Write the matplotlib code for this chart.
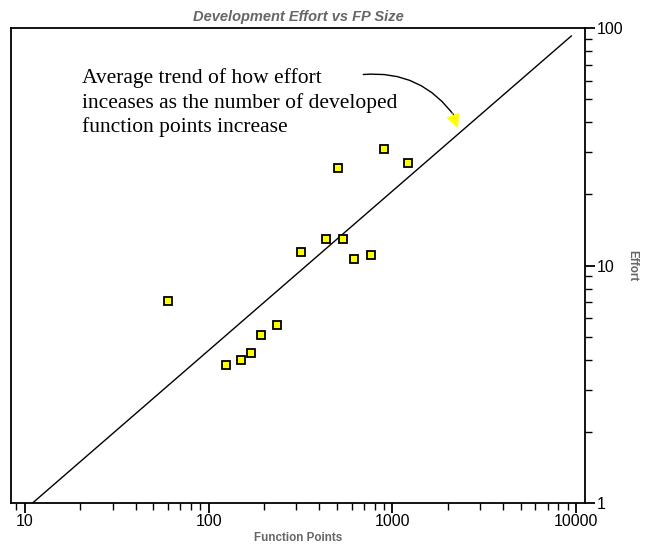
import matplotlib.pyplot as plt
from matplotlib.ticker import LogLocator, NullFormatter, FixedLocator, FixedFormatter

# data
fp = [60, 124, 149, 171, 192, 236, 317, 434, 536, 618, 764, 506, 900, 1211]
effort = [7.1, 3.8, 4.0, 4.3, 5.1, 5.6, 11.4, 12.9, 12.9, 10.6, 11.1, 25.8, 31.0, 26.9]
trend_x = [11, 9400]
trend_y = [1.0, 92.5]

fig = plt.figure(figsize=(6.46, 5.48), dpi=100)
ax = fig.add_axes([0.017, 0.082, 0.889, 0.867])

ax.plot(trend_x, trend_y, color="black", linewidth=1.0)
ax.plot(fp, effort, linestyle="none", marker="s", markersize=5.5,
        markerfacecolor="#ffff00", markeredgecolor="black", markeredgewidth=1.3)

ax.set_xscale("log")
ax.set_yscale("log")
ax.set_xlim(8.4, 11200)
ax.set_ylim(1, 100)

for s in ax.spines.values():
    s.set_linewidth(1.3)

ax.yaxis.tick_right()
ax.yaxis.set_label_position("right")
ax.xaxis.set_major_locator(FixedLocator([10, 100, 1000, 10000]))
ax.xaxis.set_major_formatter(FixedFormatter(["10", "100", "1000", "10000"]))
ax.yaxis.set_major_locator(FixedLocator([1, 10, 100]))
ax.yaxis.set_major_formatter(FixedFormatter(["1", "10", "100"]))
for a in (ax.xaxis, ax.yaxis):
    a.set_minor_locator(LogLocator(base=10, subs=range(2, 10), numticks=20))
    a.set_minor_formatter(NullFormatter())
ax.tick_params(which="major", length=7, width=1.3, labelsize=11.5, pad=1)
ax.tick_params(which="minor", length=5, width=1.0)

ax.set_title("Development Effort vs FP Size", fontsize=10.5, fontweight="bold",
             fontstyle="italic", color="#666666", family="Liberation Sans", pad=5)
ax.set_xlabel("Function Points", fontsize=8.4, fontweight="bold", color="#666666",
              family="Liberation Sans", labelpad=2)
ax.set_ylabel("Effort", fontsize=8.4, fontweight="bold", color="#666666",
              family="Liberation Sans", rotation=-90, labelpad=11)
for lbl in ax.get_xticklabels() + ax.get_yticklabels():
    lbl.set_family("Liberation Sans")

ax.text(0.124, 0.915, "Average trend of how effort\ninceases as the number of developed\nfunction points increase",
        transform=ax.transAxes, family="Liberation Serif", fontsize=15.5,
        va="top", ha="left", linespacing=1.3)

# curved arrow: black shaft, yellow head
ax.annotate("", xy=(2250, 41), xytext=(670, 63.5),
            arrowprops=dict(arrowstyle="-", color="black", lw=1.0,
                            connectionstyle="arc3,rad=-0.3"))
ax.annotate("", xy=(2300, 37), xytext=(2080, 45),
            arrowprops=dict(arrowstyle="-|>,head_length=0.9,head_width=0.45",
                            color="#ffff00", lw=0.5))

fig.savefig("out.png", dpi=100)
